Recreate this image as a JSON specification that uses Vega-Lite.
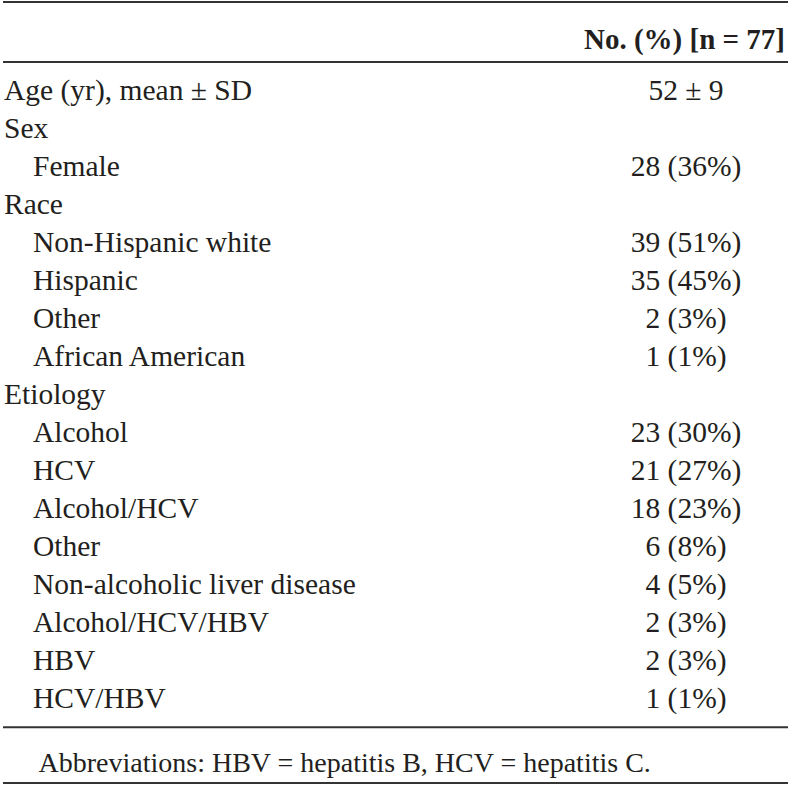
{
  "$schema": "https://vega.github.io/schema/vega-lite/v6.json",
  "width": 785,
  "height": 781,
  "autosize": "none",
  "padding": {"left": 3, "top": 2, "right": 12, "bottom": 3},
  "background": "white",
  "config": {"view": {"stroke": null}, "font": "Liberation Serif"},
  "title": {
    "text": "No. (%) [n = 77]",
    "orient": "top",
    "anchor": "end",
    "frame": "group",
    "offset": -77,
    "dx": -3,
    "baseline": "alphabetic",
    "font": "Liberation Serif",
    "fontSize": 29,
    "fontWeight": "bold",
    "color": "#231f20"
  },
  "data": {
    "values": [
      {"row": 1, "item": "Age (yr), mean ± SD", "level": 0, "value": "52 ± 9"},
      {"row": 2, "item": "Sex", "level": 0},
      {"row": 3, "item": "Female", "level": 1, "value": "28 (36%)"},
      {"row": 4, "item": "Race", "level": 0},
      {"row": 5, "item": "Non-Hispanic white", "level": 1, "value": "39 (51%)"},
      {"row": 6, "item": "Hispanic", "level": 1, "value": "35 (45%)"},
      {"row": 7, "item": "Other", "level": 1, "value": "2 (3%)"},
      {"row": 8, "item": "African American", "level": 1, "value": "1 (1%)"},
      {"row": 9, "item": "Etiology", "level": 0},
      {"row": 10, "item": "Alcohol", "level": 1, "value": "23 (30%)"},
      {"row": 11, "item": "HCV", "level": 1, "value": "21 (27%)"},
      {"row": 12, "item": "Alcohol/HCV", "level": 1, "value": "18 (23%)"},
      {"row": 13, "item": "Other", "level": 1, "value": "6 (8%)"},
      {"row": 14, "item": "Non-alcoholic liver disease", "level": 1, "value": "4 (5%)"},
      {"row": 15, "item": "Alcohol/HCV/HBV", "level": 1, "value": "2 (3%)"},
      {"row": 16, "item": "HBV", "level": 1, "value": "2 (3%)"},
      {"row": 17, "item": "HCV/HBV", "level": 1, "value": "1 (1%)"}
    ]
  },
  "layer": [
    {
      "data": {"values": [{}]},
      "mark": {"type": "rule", "color": "#333333", "strokeWidth": 2},
      "encoding": {"y": {"datum": -1.58, "type": "quantitative", "scale": {"type": "linear", "domain": [-1.58, 18.97], "reverse": true, "zero": false, "nice": false}, "axis": null}}
    },
    {
      "data": {"values": [{}]},
      "mark": {"type": "rule", "color": "#333333", "strokeWidth": 2},
      "encoding": {"y": {"datum": 0, "type": "quantitative", "scale": {"type": "linear", "domain": [-1.58, 18.97], "reverse": true, "zero": false, "nice": false}, "axis": null}}
    },
    {
      "data": {"values": [{}]},
      "mark": {"type": "rule", "color": "#333333", "strokeWidth": 2},
      "encoding": {"y": {"datum": 17.5, "type": "quantitative", "scale": {"type": "linear", "domain": [-1.58, 18.97], "reverse": true, "zero": false, "nice": false}, "axis": null}}
    },
    {
      "data": {"values": [{}]},
      "mark": {"type": "rule", "color": "#333333", "strokeWidth": 2},
      "encoding": {"y": {"datum": 18.97, "type": "quantitative", "scale": {"type": "linear", "domain": [-1.58, 18.97], "reverse": true, "zero": false, "nice": false}, "axis": null}}
    },
    {
      "transform": [{"filter": "datum.level == 0"}],
      "mark": {"type": "text", "align": "left", "baseline": "alphabetic", "font": "Liberation Serif", "fontSize": 29.5, "color": "#231f20"},
      "encoding": {
        "x": {"datum": "label", "type": "nominal", "scale": {"type": "point", "domain": ["label", "value"], "range": [1, 683], "padding": 0},
          "axis": {"orient": "bottom", "labels": false, "ticks": false, "domain": false, "grid": false,
            "title": "Abbreviations: HBV = hepatitis B, HCV = hepatitis C.", "titleX": 35, "titleY": -12, "titleAlign": "left", "titleAnchor": "start", "titleBaseline": "alphabetic", "titleFont": "Liberation Serif", "titleFontSize": 28, "titleFontWeight": "normal", "titleColor": "#231f20"}},
        "y": {"field": "row", "type": "quantitative", "scale": {"type": "linear", "domain": [-1.58, 18.97], "reverse": true, "zero": false, "nice": false}, "axis": null},
        "text": {"field": "item"}
      }
    },
    {
      "transform": [{"filter": "datum.level == 1"}],
      "mark": {"type": "text", "align": "left", "baseline": "alphabetic", "dx": 29, "font": "Liberation Serif", "fontSize": 29.5, "color": "#231f20"},
      "encoding": {
        "x": {"datum": "label", "type": "nominal", "scale": {"type": "point", "domain": ["label", "value"], "range": [1, 683], "padding": 0},
          "axis": {"orient": "bottom", "labels": false, "ticks": false, "domain": false, "grid": false,
            "title": "Abbreviations: HBV = hepatitis B, HCV = hepatitis C.", "titleX": 35, "titleY": -12, "titleAlign": "left", "titleAnchor": "start", "titleBaseline": "alphabetic", "titleFont": "Liberation Serif", "titleFontSize": 28, "titleFontWeight": "normal", "titleColor": "#231f20"}},
        "y": {"field": "row", "type": "quantitative", "scale": {"type": "linear", "domain": [-1.58, 18.97], "reverse": true, "zero": false, "nice": false}, "axis": null},
        "text": {"field": "item"}
      }
    },
    {
      "transform": [{"filter": "datum.value != null"}],
      "mark": {"type": "text", "align": "center", "baseline": "alphabetic", "font": "Liberation Serif", "fontSize": 29.5, "color": "#231f20"},
      "encoding": {
        "x": {"datum": "value", "type": "nominal", "scale": {"type": "point", "domain": ["label", "value"], "range": [1, 683], "padding": 0},
          "axis": {"orient": "bottom", "labels": false, "ticks": false, "domain": false, "grid": false,
            "title": "Abbreviations: HBV = hepatitis B, HCV = hepatitis C.", "titleX": 35, "titleY": -12, "titleAlign": "left", "titleAnchor": "start", "titleBaseline": "alphabetic", "titleFont": "Liberation Serif", "titleFontSize": 28, "titleFontWeight": "normal", "titleColor": "#231f20"}},
        "y": {"field": "row", "type": "quantitative", "scale": {"type": "linear", "domain": [-1.58, 18.97], "reverse": true, "zero": false, "nice": false}, "axis": null},
        "text": {"field": "value"}
      }
    }
  ]
}
